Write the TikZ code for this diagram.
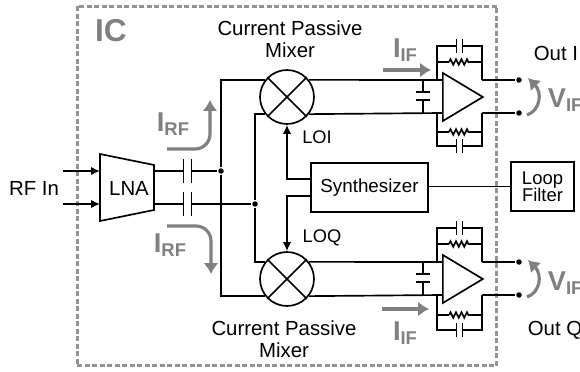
\documentclass[tikz,border=0pt]{standalone}
\usepackage{fontspec}
\setmainfont{Liberation Sans}
\usetikzlibrary{arrows.meta,shapes.geometric,decorations.pathmorphing}
\definecolor{icgray}{RGB}{128,128,128}
\newcommand{\fsz}[1]{\fontsize{#1}{#1}\selectfont}
\newcommand{\gsub}[2]{#1\raisebox{-0.3ex}{\fsz{10.5}#2}}
\tikzset{
	block/.style={shape=rectangle,draw=black,inner sep=0pt,align=center},
	mixer/.style={shape=circle,draw=black,minimum size=1.08cm,inner sep=0pt},
	amp/.style={shape=isosceles triangle,draw=black,isosceles triangle stretches,inner sep=0pt,minimum width=.96cm,minimum height=.8cm,anchor=lower side},
	dot/.style={shape=circle,fill=black,inner sep=0pt,minimum size=.11cm},
	capv/.style 2 args={inner sep=0pt,minimum width=#1,minimum height=#2,append after command={(\tikzlastnode.north west) edge (\tikzlastnode.south west) (\tikzlastnode.north east) edge (\tikzlastnode.south east)}},
	caph/.style={inner sep=0pt,minimum width=.25cm,minimum height=.12cm,append after command={(\tikzlastnode.north west) edge (\tikzlastnode.north east) (\tikzlastnode.south west) edge (\tikzlastnode.south east)}},
	res/.style={inner sep=0pt,minimum width=.38cm,minimum height=.16cm,append after command={(\tikzlastnode.west) edge[decorate,decoration={zigzag,segment length=.11cm,amplitude=.055cm}] (\tikzlastnode.east)}},
	txt/.style={inner sep=0pt,align=center,font=\fsz{11.6}},
	small/.style={inner sep=0pt,align=center,font=\fsz{10.4}},
	glabel/.style={inner sep=0pt,text=icgray,font=\fsz{15.5}\bfseries},
	arrow/.style={-{Latex[length=.18cm,width=.17cm]}},
	garrow/.style={draw=icgray,line width=1.8pt,-{Latex[length=.22cm,width=.3cm]}}
}
\begin{document}
\begin{tikzpicture}[x=0.02cm,y=-0.02cm,line width=0.95pt,line join=miter]
	\useasboundingbox (0,0) rectangle (580,371);

	\node[draw=icgray!85,line width=1.7pt,dash pattern=on .1cm off .05cm,minimum width=8.4cm,minimum height=7.2cm,inner sep=0pt] (ic) at (287,186) {};
	\node[glabel,font=\fsz{18}\bfseries] (iclabel) at (111,31) {IC};

	\node[txt] (rfin) at (34,188) {RF In};
	\coordinate (lnaa) at (100,154);
	\coordinate (lnab) at (154,165);
	\coordinate (lnac) at (154,210);
	\coordinate (lnad) at (100,221);
	\draw (lnaa) -- (lnab) -- (lnac) -- (lnad) -- cycle;
	\node[txt] (lnalabel) at (129,188) {LNA};
	\node[mixer] (mxi) at (287,97) {};
	\node[mixer] (mxq) at (287,279) {};
	\node[block,minimum width=2.34cm,minimum height=.98cm,font=\fsz{10.7}] (syn) at (369.5,187.5) {Synthesizer};
	\node[block,minimum width=1.26cm,minimum height=.98cm,font=\fsz{10.5}] (loop) at (542.5,186.5) {Loop\\[-1pt]Filter};
	\node[amp] (ampi) at (442,97) {};
	\node[amp] (ampq) at (442,279) {};

	\node[txt] (mxilabel) at (290,39) {Current Passive\\[1pt]Mixer};
	\node[txt] (mxqlabel) at (284,339) {Current Passive\\[1pt]Mixer};
	\node[small] (loi) at (317,137) {LOI};
	\node[small] (loq) at (322,238) {LOQ};
	\node[txt,anchor=west] (outi) at (533,53) {Out I};
	\node[txt,anchor=west] (outq) at (527,330) {Out Q};

	\coordinate (ina) at (63,171);
	\coordinate (inb) at (63,204);
	\coordinate (lnaia) at (100,171);
	\coordinate (lnaib) at (100,204);
	\coordinate (lnaoa) at (154,171);
	\coordinate (lnaob) at (154,204);
	\node[capv={.13cm}{.44cm}] (ca) at (187.5,171) {};
	\node[capv={.13cm}{.44cm}] (cb) at (187.5,204) {};
	\node[dot] (ja) at (221,171) {};
	\node[dot] (jb) at (255,204) {};

	\draw[arrow] (ina) -- (lnaia);
	\draw[arrow] (inb) -- (lnaib);
	\draw (lnaoa) -- (ca) -- (ja);
	\draw (lnaob) -- (cb) -- (jb);
	\draw (ja) |- (mxi.142);
	\draw (ja) |- (mxq.-142);
	\draw (jb) |- (mxi.-142);
	\draw (jb) |- (mxq.142);
	\draw (mxi.north west) -- (mxi.south east);
	\draw (mxi.north east) -- (mxi.south west);
	\draw (mxq.north west) -- (mxq.south east);
	\draw (mxq.north east) -- (mxq.south west);

	\coordinate (synup) at (311,179);
	\coordinate (syndn) at (311,196);
	\draw[arrow] (synup) -| (mxi.south);
	\draw[arrow] (syndn) -| (mxq.north);
	\draw (syn.east |- loop) -- (loop);

	% top branch
	\coordinate (aia) at (442,80);
	\coordinate (aib) at (442,113);
	\coordinate (fia) at (437,80);
	\coordinate (fib) at (437,113);
	\coordinate (gia) at (482,80);
	\coordinate (gib) at (482,113);
	\coordinate (sia) at (423,80);
	\coordinate (sib) at (423,113);
	\node[dot] (tia) at (519,80) {};
	\node[dot] (tib) at (519,113) {};
	\node[caph] (csi) at (423,96) {};
	\node[capv={.09cm}{.24cm}] (cia) at (459.5,46) {};
	\node[capv={.09cm}{.24cm}] (cib) at (459.5,146) {};
	\node[res] (ria) at (459.5,62) {};
	\node[res] (rib) at (459.5,132) {};
	\draw (mxi.38) -- (aia);
	\draw (mxi.-38) -- (aib);
	\draw (sia) -- (csi) -- (sib);
	\draw (gia) -- (tia);
	\draw (gib) -- (tib);
	\draw (fia) |- (cia);
	\draw (cia) -| (gia);
	\draw (fib) |- (cib);
	\draw (cib) -| (gib);
	\draw (fia |- ria) -- (ria) -- (gia |- ria);
	\draw (fib |- rib) -- (rib) -- (gib |- rib);

	% bottom branch
	\coordinate (aqa) at (442,262);
	\coordinate (aqb) at (442,295);
	\coordinate (fqa) at (437,262);
	\coordinate (fqb) at (437,295);
	\coordinate (gqa) at (482,262);
	\coordinate (gqb) at (482,295);
	\coordinate (sqa) at (423,262);
	\coordinate (sqb) at (423,295);
	\node[dot] (tqa) at (519,262) {};
	\node[dot] (tqb) at (519,295) {};
	\node[caph] (csq) at (423,278) {};
	\node[capv={.09cm}{.24cm}] (cqa) at (459.5,228) {};
	\node[capv={.09cm}{.24cm}] (cqb) at (459.5,330) {};
	\node[res] (rqa) at (459.5,244) {};
	\node[res] (rqb) at (459.5,315) {};
	\draw (mxq.38) -- (aqa);
	\draw (mxq.-38) -- (aqb);
	\draw (sqa) -- (csq) -- (sqb);
	\draw (gqa) -- (tqa);
	\draw (gqb) -- (tqb);
	\draw (fqa) |- (cqa);
	\draw (cqa) -| (gqa);
	\draw (fqb) |- (cqb);
	\draw (cqb) -| (gqb);
	\draw (fqa |- rqa) -- (rqa) -- (gqa |- rqa);
	\draw (fqb |- rqb) -- (rqb) -- (gqb |- rqb);

	% currents and voltages
	\node[glabel] (irfa) at (173,124) {\gsub{I}{RF}};
	\node[glabel] (irfb) at (170,245) {\gsub{I}{RF}};
	\node[glabel] (iifa) at (405,50) {\gsub{I}{IF}};
	\node[glabel] (iifb) at (405,333) {\gsub{I}{IF}};
	\node[glabel,anchor=west] (vifa) at (547,100) {\gsub{V}{IF}};
	\node[glabel,anchor=west] (vifb) at (547,283) {\gsub{V}{IF}};

	\coordinate (garfa) at (167,149);
	\coordinate (gbrfa) at (210,100);
	\coordinate (garfb) at (167,226);
	\coordinate (gbrfb) at (211,274);
	\coordinate (gaifa) at (383,70);
	\coordinate (gbifa) at (431,70);
	\coordinate (gaifb) at (382,309);
	\coordinate (gbifb) at (429,309);
	\coordinate (gavfa) at (527,115);
	\coordinate (gbvfa) at (528,78);
	\coordinate (gavfb) at (527,297);
	\coordinate (gbvfb) at (528,260);
	\draw[garrow,rounded corners=.3cm] (garfa) -| (gbrfa);
	\draw[garrow,rounded corners=.3cm] (garfb) -| (gbrfb);
	\draw[garrow] (gaifa) -- (gbifa);
	\draw[garrow] (gaifb) -- (gbifb);
	\draw[garrow] (gavfa) .. controls (541,110) and (542,92) .. (gbvfa);
	\draw[garrow] (gavfb) .. controls (541,292) and (542,274) .. (gbvfb);
\end{tikzpicture}
\end{document}
